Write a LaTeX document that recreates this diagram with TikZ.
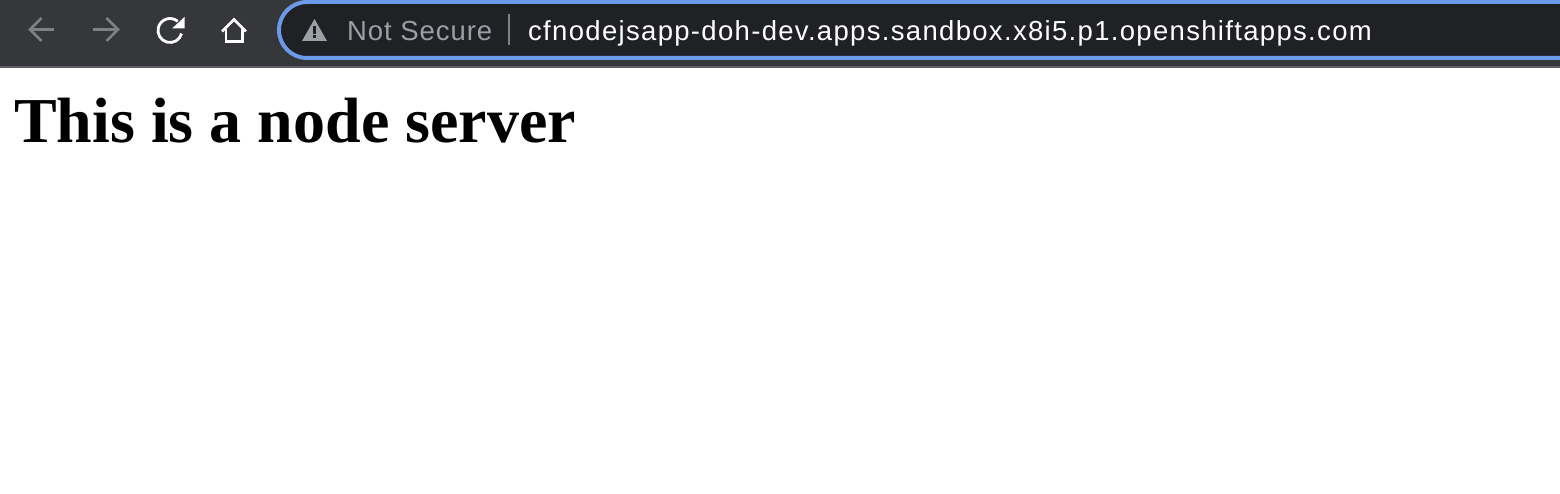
\documentclass[tikz,border=0pt]{standalone}
\usepackage{fontspec}
\usepackage{xcolor}
\setmainfont{Liberation Serif}
\newfontfamily\barfont{Liberation Sans}
\definecolor{cBar}{HTML}{36373B}
\definecolor{cBarEdge}{HTML}{5F6063}
\definecolor{cPill}{HTML}{202124}
\definecolor{cFocus}{HTML}{6A9AE8}
\definecolor{cDim}{HTML}{7F8083}
\definecolor{cHint}{HTML}{9AA0A6}
\begin{document}
\begin{tikzpicture}[
    x=1pt, y=-1pt,
    navicon/.style={line width=2.6pt, color=cDim},
    liveicon/.style={line width=2.8pt, color=white},
    bartext/.style={anchor=base west, inner sep=0pt, font=\barfont\fontsize{27.5}{30}\selectfont},
    heading/.style={anchor=base west, inner sep=0pt, font=\bfseries\fontsize{64}{72}\selectfont}
]
\useasboundingbox (0,0) rectangle (1560,494);
\fill[white] (0,0) rectangle (1560,494);
% toolbar
\fill[cBar] (0,0) rectangle (1560,66);
\fill[cBarEdge] (0,66) rectangle (1560,68);
% address field
\draw[fill=cPill, draw=cFocus, line width=4pt] (1570,2) -- (307,2) arc[start angle=270, end angle=90, radius=28] -- (1570,58);
% back and forward
\draw[navicon] (54,29.5) -- (30,29.5);
\draw[navicon] (41.5,18) -- (30,29.5) -- (41.5,41);
\draw[navicon] (93,29.5) -- (118,29.5);
\draw[navicon] (106.5,18) -- (118,29.5) -- (106.5,41);
% reload
\draw[liveicon] (170,30.5) ++(15:12) arc[start angle=15, end angle=310, radius=12];
\fill[white] (172,28.5) -- (184.5,28.5) -- (184.5,17) -- cycle;
% home
\draw[liveicon, line join=miter] (222,31.5) -- (234,19.5) -- (246,31.5);
\draw[liveicon] (226,29) -- (226,41.5) -- (242.5,41.5) -- (242.5,29);
% warning sign
\fill[cHint] (302,41) -- (314.5,19) -- (327,41) -- cycle;
\fill[cPill] (313.2,26.5) rectangle (315.8,34);
\fill[cPill] (313.2,35.5) rectangle (315.8,38);
\node[bartext, text=cHint] (secure) at (347,41) {\addfontfeature{LetterSpace=3.4}Not Secure};
\draw[cDim, line width=1.5pt] (509,14) -- (509,45);
\node[bartext, text=white] (url) at (528,41) {\addfontfeature{LetterSpace=4.8}cfnodejsapp-doh-dev.apps.sandbox.x8i5.p1.openshiftapps.com};
% page
\node[heading] (title) at (14,143) {This is a node server};
\end{tikzpicture}
\end{document}
